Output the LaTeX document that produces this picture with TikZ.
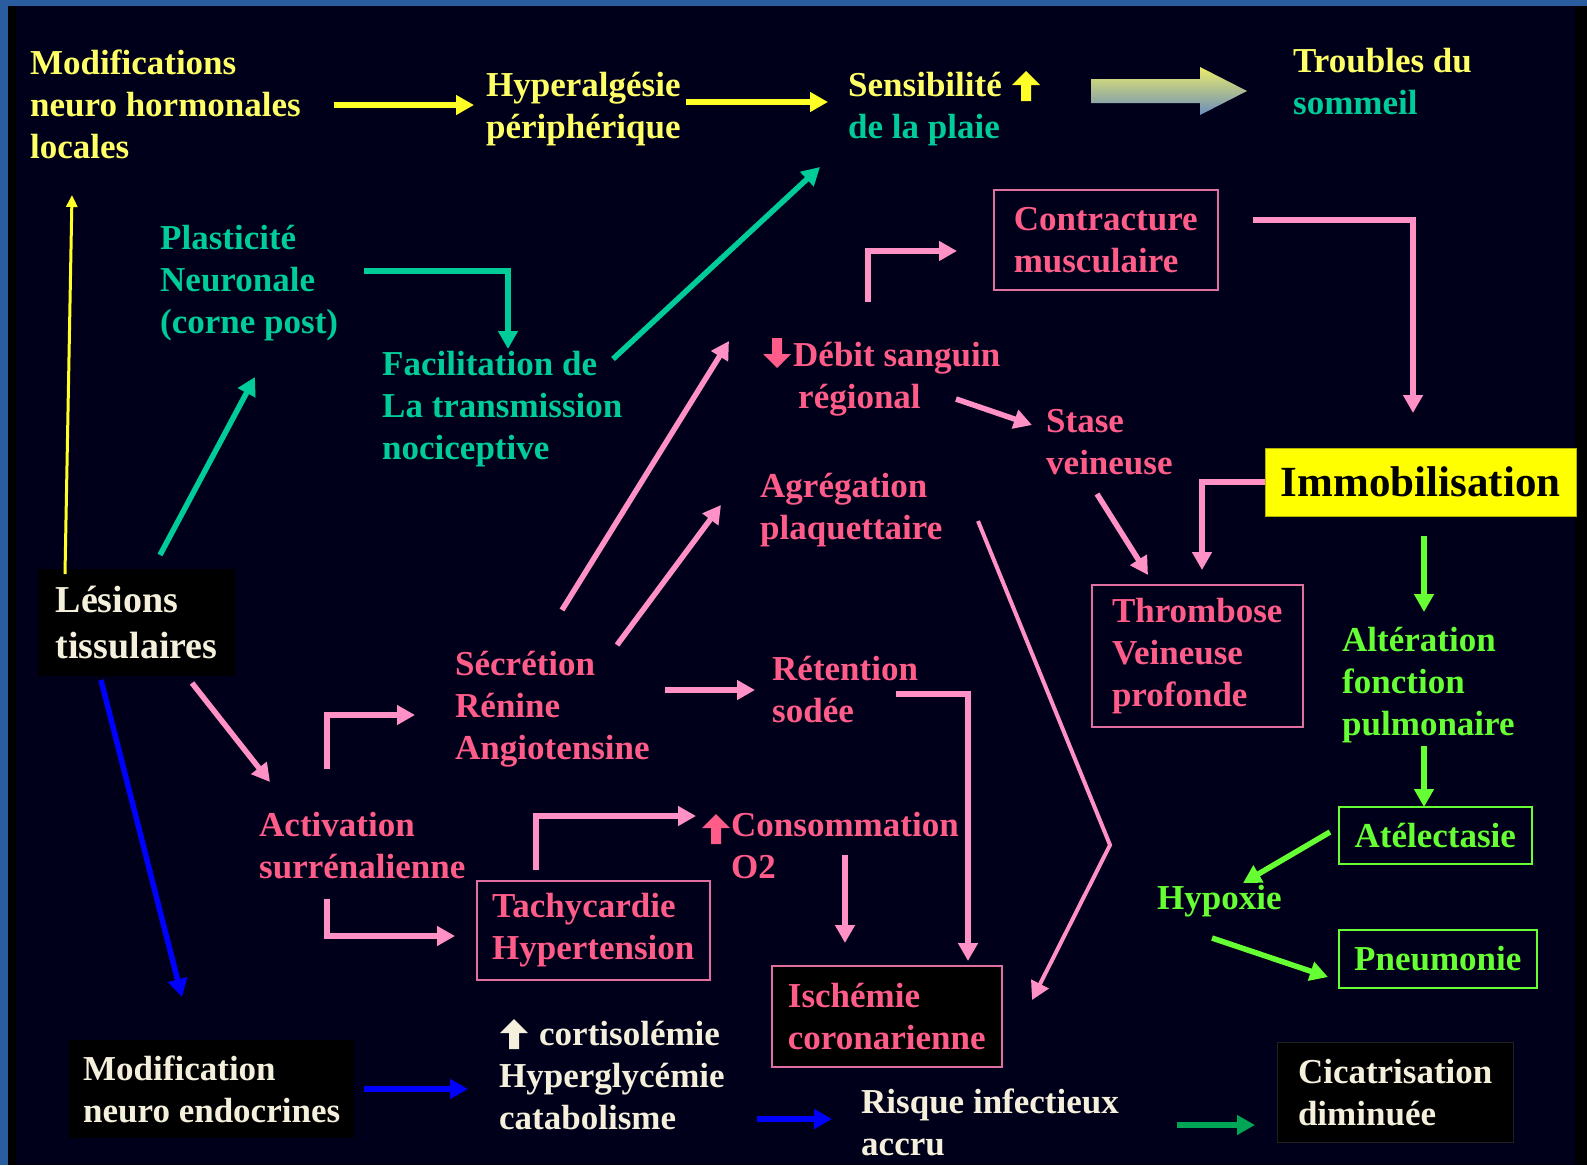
\documentclass[tikz,border=0pt]{standalone}
\usepackage{fontspec}
\setmainfont{Liberation Serif}
\usetikzlibrary{arrows.meta}

\definecolor{bgnavy}{RGB}{0,0,26}
\definecolor{rimblue}{RGB}{42,92,160}
\definecolor{txtyel}{RGB}{255,255,102}
\definecolor{arryel}{RGB}{255,255,40}
\definecolor{txtteal}{RGB}{0,204,153}
\definecolor{txtpink}{RGB}{255,92,138}
\definecolor{arrpink}{RGB}{255,145,198}
\definecolor{boxpink}{RGB}{225,110,160}
\definecolor{txtgreen}{RGB}{102,255,51}
\definecolor{dkgreen}{RGB}{0,165,85}
\definecolor{txtcream}{RGB}{245,240,220}
\definecolor{arrblue}{RGB}{0,0,255}
\definecolor{immoyel}{RGB}{255,255,0}

\tikzset{
  fatup/.pic={\fill (0,0) -- (14,14) -- (5,14) -- (5,30) -- (-5,30) -- (-5,14) -- (-14,14) -- cycle;}
}

\begin{document}
\begin{tikzpicture}
  [x=1pt,y=-1pt,
   every node/.style={inner sep=0pt,align=left,anchor=base west,font=\bfseries\fontsize{35}{42}\selectfont},
   box/.style={anchor=north west,draw=boxpink,line width=1.5pt,text=txtpink},
   arr/.style={line width=5.5pt,line join=miter,-{Triangle[length=18pt,width=19pt]}},
   pk/.style={arr,draw=arrpink},
   yl/.style={arr,draw=arryel},
   tl/.style={arr,draw=txtteal},
   bl/.style={arr,draw=arrblue},
   gr/.style={arr,draw=txtgreen}]
  \useasboundingbox (0,0) rectangle (1587,1165);
  \fill[rimblue] (0,0) rectangle (1587,1165);
  \fill[black] (8,6) rectangle (1587,1165);
  \fill[bgnavy] (16,6) rectangle (1575,1165);

  % top row (nodes sit on the baseline of their last line)
  \node[text=txtyel] (mod) at (30,158) {Modifications\\neuro hormonales\\locales};
  \node[text=txtyel] (hyp) at (486,138) {Hyperalgésie\\périphérique};
  \node[text=txtyel] (sens) at (848,138) {Sensibilité\\\textcolor{txtteal}{de la plaie}};
  \node[text=txtyel] (trb) at (1293,114) {Troubles du\\\textcolor{txtteal}{sommeil}};
  \pic[fill=arryel] at (1026,71) {fatup};
  \shade[top color=txtyel!85!gray,bottom color=rimblue!70!white]
    (1091,79) -- (1200,79) -- (1200,67) -- (1247,91) -- (1200,115) -- (1200,103) -- (1091,103) -- cycle;

  % neuronal side
  \node[text=txtteal] (plas) at (160,333) {Plasticité\\Neuronale\\(corne post)};
  \node[text=txtteal] (fac) at (382,459) {Facilitation de\\La transmission\\nociceptive};
  \node[fill=black,anchor=north west,minimum width=197,minimum height=107,text=txtcream,
        font=\bfseries\fontsize{38}{46}\selectfont] (les) at (38,569) {Lésions\\tissulaires};

  % pink chain
  \node[text=txtpink] (acti) at (259,878) {Activation\\surrénalienne};
  \node[text=txtpink] (secr) at (455,759) {Sécrétion\\Rénine\\Angiotensine};
  \node[text=txtpink] (debit) at (793,408) {Débit sanguin\\\hspace*{5pt}régional};
  \pic[fill=txtpink,yscale=-1] at (777,368) {fatup};
  \node[text=txtpink] (agr) at (760,539) {Agrégation\\plaquettaire};
  \node[text=txtpink] (ret) at (772,722) {Rétention\\sodée};
  \node[text=txtpink] (stase) at (1046,474) {Stase\\veineuse};
  \node[text=txtpink] (cons) at (731,878) {Consommation\\O2};
  \pic[fill=txtpink] at (716,814) {fatup};
  \node[box,minimum width=224,minimum height=100] (contr) at (993,189) {Contracture\\musculaire};
  \node[box,minimum width=211,minimum height=142] (thr) at (1091,584) {Thrombose\\Veineuse\\profonde};
  \node[box,minimum width=233,minimum height=99] (tach) at (476,880) {Tachycardie\\Hypertension};
  \node[box,fill=black,minimum width=230,minimum height=101] (isch) at (771,965) {Ischémie\\coronarienne};

  % immobilisation side
  \node[anchor=north west,fill=immoyel,draw=immoyel!70!black,minimum width=311,minimum height=68,
        font=\bfseries\fontsize{43}{50}\selectfont,text=black] (immo) at (1265,448) {Immobilisation};
  \node[text=txtgreen] (alt) at (1342,735) {Altération\\fonction\\pulmonaire};
  \node[box,draw=txtgreen,text=txtgreen,minimum width=193,minimum height=57] (atel) at (1338,806) {Atélectasie};
  \node[text=txtgreen] (hypx) at (1157,909) {Hypoxie};
  \node[box,draw=txtgreen,text=txtgreen,minimum width=198,minimum height=58] (pneu) at (1338,929) {Pneumonie};

  % bottom row
  \node[fill=black,anchor=north west,minimum width=285,minimum height=98,text=txtcream] (mne) at (69,1040) {Modification\\neuro endocrines};
  \node[text=txtcream] (cort) at (499,1129) {\hspace*{40pt}cortisolémie\\Hyperglycémie\\catabolisme};
  \pic[fill=txtcream] at (514,1019) {fatup};
  \node[text=txtcream] (risq) at (861,1155) {Risque infectieux\\accru};
  \node[fill=black,draw=black!75!gray,anchor=north west,minimum width=236,minimum height=100,text=txtcream] (cic) at (1277,1042) {Cicatrisation\\diminuée};

  % arrow ends
  \coordinate (y1a) at (334,105); \coordinate (y1b) at (474,105);
  \coordinate (y2a) at (686,102); \coordinate (y2b) at (828,102);
  \coordinate (y3a) at (65,574);  \coordinate (y3b) at (72,195);
  \coordinate (t1a) at (364,271); \coordinate (t1b) at (508,349);
  \coordinate (t2a) at (613,359); \coordinate (t2b) at (820,167);
  \coordinate (t3a) at (160,555); \coordinate (t3b) at (255,377);
  \coordinate (p1a) at (192,683); \coordinate (p1b) at (270,782);
  \coordinate (p2a) at (327,769); \coordinate (p2b) at (415,715);
  \coordinate (p3a) at (327,899); \coordinate (p3b) at (455,936);
  \coordinate (p4a) at (562,610); \coordinate (p4b) at (729,341);
  \coordinate (p5a) at (617,645); \coordinate (p5b) at (721,505);
  \coordinate (p6a) at (665,690); \coordinate (p6b) at (755,690);
  \coordinate (p7a) at (896,694); \coordinate (p7b) at (968,961);
  \coordinate (p8a) at (868,302); \coordinate (p8b) at (957,251);
  \coordinate (p9a) at (1253,220); \coordinate (p9b) at (1413,413);
  \coordinate (p10a) at (956,399); \coordinate (p10b) at (1032,425);
  \coordinate (p11a) at (1097,494); \coordinate (p11b) at (1148,575);
  \coordinate (p12b) at (1202,570);
  \coordinate (p13a) at (978,521); \coordinate (p13m) at (1110,845); \coordinate (p13b) at (1032,1000);
  \coordinate (p14a) at (536,870); \coordinate (p14b) at (696,816);
  \coordinate (p15a) at (845,855); \coordinate (p15b) at (845,943);
  \coordinate (b1a) at (101,680); \coordinate (b1b) at (182,997);
  \coordinate (b2a) at (364,1089); \coordinate (b2b) at (468,1089);
  \coordinate (b3a) at (757,1119); \coordinate (b3b) at (832,1119);
  \coordinate (g1a) at (1424,536); \coordinate (g1b) at (1424,612);
  \coordinate (g2a) at (1424,746); \coordinate (g2b) at (1424,807);
  \coordinate (g3a) at (1330,832); \coordinate (g3b) at (1243,883);
  \coordinate (g4a) at (1212,938); \coordinate (g4b) at (1328,977);
  \coordinate (d1a) at (1177,1125); \coordinate (d1b) at (1255,1125);

  \foreach \from/\to in {y1a/y1b, y2a/y2b}
    \draw [yl] (\from) -- (\to);
  \draw [arryel,line width=3pt,-{Triangle[length=12pt,width=11pt]}] (y3a) -- (y3b);
  \draw [tl] (t1a) -| (t1b);
  \foreach \from/\to in {t2a/t2b, t3a/t3b}
    \draw [tl] (\from) -- (\to);
  \foreach \from/\to in {p1a/p1b, p4a/p4b, p5a/p5b, p6a/p6b, p10a/p10b, p11a/p11b, p15a/p15b}
    \draw [pk] (\from) -- (\to);
  \foreach \from/\to in {p2a/p2b, p3a/p3b, p8a/p8b, p14a/p14b}
    \draw [pk] (\from) |- (\to);
  \foreach \from/\to in {p7a/p7b, p9a/p9b}
    \draw [pk] (\from) -| (\to);
  \draw [pk] (immo.west) -| (p12b);
  \draw [pk,line width=4pt] (p13a) -- (p13m) -- (p13b);
  \foreach \from/\to in {b1a/b1b, b2a/b2b, b3a/b3b}
    \draw [bl] (\from) -- (\to);
  \foreach \from/\to in {g1a/g1b, g2a/g2b, g3a/g3b, g4a/g4b}
    \draw [gr] (\from) -- (\to);
  \draw [arr,draw=dkgreen] (d1a) -- (d1b);

\end{tikzpicture}
\end{document}
